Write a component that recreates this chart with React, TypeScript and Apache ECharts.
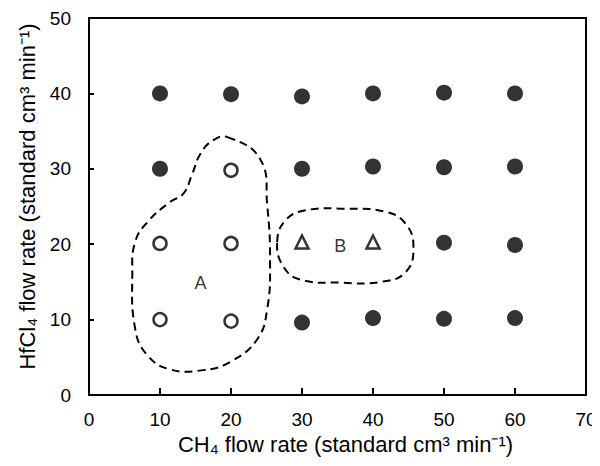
import React, { useEffect, useRef } from "react";
import * as echarts from "echarts";

const xTicks = [0, 10, 20, 30, 40, 50, 60, 70];
const yTicks = [0, 10, 20, 30, 40, 50];

// filled circles: other conditions
const filledPts: [number, number][] = [
  [10, 40], [20, 39.9], [30, 39.6], [40, 40], [50, 40.1], [60, 40],
  [10, 30], [30, 30], [40, 30.3], [50, 30.2], [60, 30.3],
  [50, 20.2], [60, 19.9],
  [30, 9.6], [40, 10.2], [50, 10.1], [60, 10.2],
];
// open circles: region A
const openPts: [number, number][] = [
  [20, 29.8], [10, 20.1], [20, 20.1], [10, 10], [20, 9.8],
];
// open triangles: region B
const triPts: [number, number][] = [[30, 20.3], [40, 20.3]];

// dashed outlines (data coordinates)
const regionA: [number, number][] = [
  [19.5, 34.2], [24.1, 31.3], [25.1, 25.2], [25.5, 17.6], [25.1, 11.4],
  [23.7, 7.4], [19.9, 4.4], [16.1, 3.3], [11.4, 3.4], [8.2, 5.3],
  [6.5, 8.8], [6.1, 16.3], [6.5, 20.3], [8.2, 22.9], [11.4, 25.6],
  [13.3, 26.7], [14.5, 29.2], [15.7, 32], [17.5, 33.8],
];
const regionB: [number, number][] = [
  [26.5, 20.3], [27.7, 23.2], [30.5, 24.5], [36.1, 24.7], [41.8, 24.3],
  [44.6, 22.7], [45.7, 19.6], [44.6, 16.3], [41.1, 15.0], [35.4, 14.9],
  [29.8, 15.3], [27.4, 17.0],
];
const regionLabels = [
  { name: "A", value: [15.7, 14.9] },
  { name: "B", value: [35.4, 19.8] },
];

const FONT = "Liberation Sans, Arial, Helvetica, sans-serif";

export default function App() {
  const ref = useRef<HTMLDivElement>(null);
  useEffect(() => {
    if (!ref.current) return;
    const chart = echarts.init(ref.current, null, { renderer: "svg" });
    const outline = (pts: [number, number][]) => ({
      type: "custom",
      coordinateSystem: "cartesian2d",
      data: [0],
      silent: true,
      z: 1,
      renderItem: (_p: any, api: any) => ({
        type: "polygon",
        shape: { points: pts.map((p) => api.coord(p)), smooth: 0.45 },
        style: { fill: "none", stroke: "#000", lineWidth: 2, lineDash: [8, 5] },
      }),
    });
    chart.setOption({
      animation: false,
      backgroundColor: "#fff",
      grid: {
        left: 89, right: 14, top: 18, bottom: 71,
        show: true, borderColor: "#000", borderWidth: 2, backgroundColor: "transparent",
      },
      xAxis: {
        type: "value", min: xTicks[0], max: xTicks[xTicks.length - 1], interval: 10,
        name: "CH\u2084 flow rate (standard cm\u00B3 min\u207B\u00B9)",
        nameLocation: "middle", nameGap: 36,
        nameTextStyle: { fontSize: 22, color: "#000", fontFamily: FONT, padding: [0, 0, 0, 16] },
        axisLine: { lineStyle: { color: "#000", width: 2 } },
        axisTick: { inside: true, length: 7, lineStyle: { color: "#000", width: 2 } },
        axisLabel: { fontSize: 19, color: "#000", fontFamily: FONT, margin: 15 },
        splitLine: { show: false },
      },
      yAxis: {
        type: "value", min: yTicks[0], max: yTicks[yTicks.length - 1], interval: 10,
        name: "HfCl\u2084 flow rate (standard cm\u00B3 min\u207B\u00B9)",
        nameLocation: "middle", nameGap: 50,
        nameTextStyle: { fontSize: 22, color: "#000", fontFamily: FONT, padding: [0, 0, 0, 20] },
        axisLine: { lineStyle: { color: "#000", width: 2 } },
        axisTick: { inside: true, length: 5, lineStyle: { color: "#000", width: 2 } },
        axisLabel: { fontSize: 19, color: "#000", fontFamily: FONT, margin: 18 },
        splitLine: { show: false },
      },
      series: [
        outline(regionA),
        outline(regionB),
        {
          type: "scatter", data: filledPts, symbol: "circle", symbolSize: 16,
          itemStyle: { color: "#000" }, z: 3,
        },
        {
          type: "scatter", data: openPts, symbol: "circle", symbolSize: 13,
          itemStyle: { color: "#fff", borderColor: "#000", borderWidth: 2.5 }, z: 3,
        },
        {
          type: "scatter", data: triPts, symbol: "triangle", symbolSize: 13,
          itemStyle: { color: "#fff", borderColor: "#000", borderWidth: 2.5 }, z: 3,
        },
        {
          type: "scatter", data: regionLabels, symbolSize: 0, z: 4,
          label: {
            show: true, position: "inside", formatter: (p: any) => p.name,
            fontSize: 18, color: "#000", fontFamily: FONT,
          },
        },
      ],
    });
    return () => chart.dispose();
  }, []);
  return <div ref={ref} style={{ width: 600, height: 466, marginLeft: -8, marginTop: -8 }} />;
}
